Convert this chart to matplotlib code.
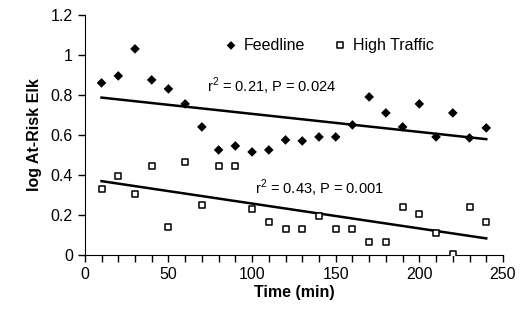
import numpy as np
import matplotlib
matplotlib.use('Agg')
import matplotlib.pyplot as plt
from matplotlib.ticker import MultipleLocator

plt.rcParams['font.family'] = ['Liberation Sans', 'DejaVu Sans']
plt.rcParams['mathtext.fontset'] = 'custom'
plt.rcParams['mathtext.rm'] = 'Liberation Sans'

# Data
time = [10, 20, 30, 40, 50, 60, 70, 80, 90, 100, 110, 120,
        130, 140, 150, 160, 170, 180, 190, 200, 210, 220, 230, 240]
feedline = [0.86, 0.895, 1.03, 0.875, 0.83, 0.755, 0.64, 0.525, 0.545, 0.515, 0.525, 0.575,
            0.57, 0.59, 0.59, 0.65, 0.79, 0.71, 0.64, 0.755, 0.59, 0.71, 0.585, 0.635]
high_traffic = [0.328, 0.395, 0.305, 0.447, 0.142, 0.463, 0.25, 0.447, 0.447, 0.228, 0.167, 0.13,
                0.13, 0.197, 0.13, 0.13, 0.067, 0.067, 0.238, 0.203, 0.108, 0.005, 0.238, 0.163]
fit_labels = [r'$\mathrm{r}^2$ = 0.21, P = 0.024', r'$\mathrm{r}^2$ = 0.43, P = 0.001']

fig = plt.figure(figsize=(5.3, 3.16), dpi=100)
ax = fig.add_axes([0.160, 0.193, 0.789, 0.760])

t = np.array(time)
ax.scatter(time, feedline, marker='D', s=24, c='black', edgecolors='none',
           label='Feedline', zorder=3)
ax.scatter(time, high_traffic, marker='s', s=24, facecolors='white', edgecolors='black',
           linewidths=1.1, label='High Traffic', zorder=3)

# Regression lines
for ys in (feedline, high_traffic):
    m, b = np.polyfit(t, ys, 1)
    ax.plot(t, m * t + b, color='black', lw=1.8, zorder=2)

ax.text(73, 0.845, fit_labels[0], fontsize=10.5, va='center')
ax.text(102, 0.335, fit_labels[1], fontsize=10.5, va='center')

ax.set_xlim(0, 250)
ax.set_ylim(0, 1.2)
ax.xaxis.set_major_locator(MultipleLocator(50))
ax.xaxis.set_minor_locator(MultipleLocator(10))
ax.yaxis.set_major_locator(MultipleLocator(0.2))
ax.yaxis.set_major_formatter(plt.FuncFormatter(lambda v, p: ('%.1f' % v).rstrip('0').rstrip('.') if v else '0'))
ax.tick_params(which='both', direction='out', length=5, width=1, labelsize=11.5)
for s in ('top', 'right'):
    ax.spines[s].set_visible(False)

ax.set_xlabel('Time (min)', fontsize=11.5, fontweight='bold', labelpad=2)
ax.set_ylabel('log At-Risk Elk', fontsize=11.5, fontweight='bold', labelpad=6)

ax.legend(loc='upper left', bbox_to_anchor=(0.3, 0.965), ncol=2, frameon=False,
          fontsize=11.5, handlelength=0.8, handletextpad=0.4, columnspacing=1.8,
          markerscale=0.9)

fig.savefig('out.png', dpi=100)
